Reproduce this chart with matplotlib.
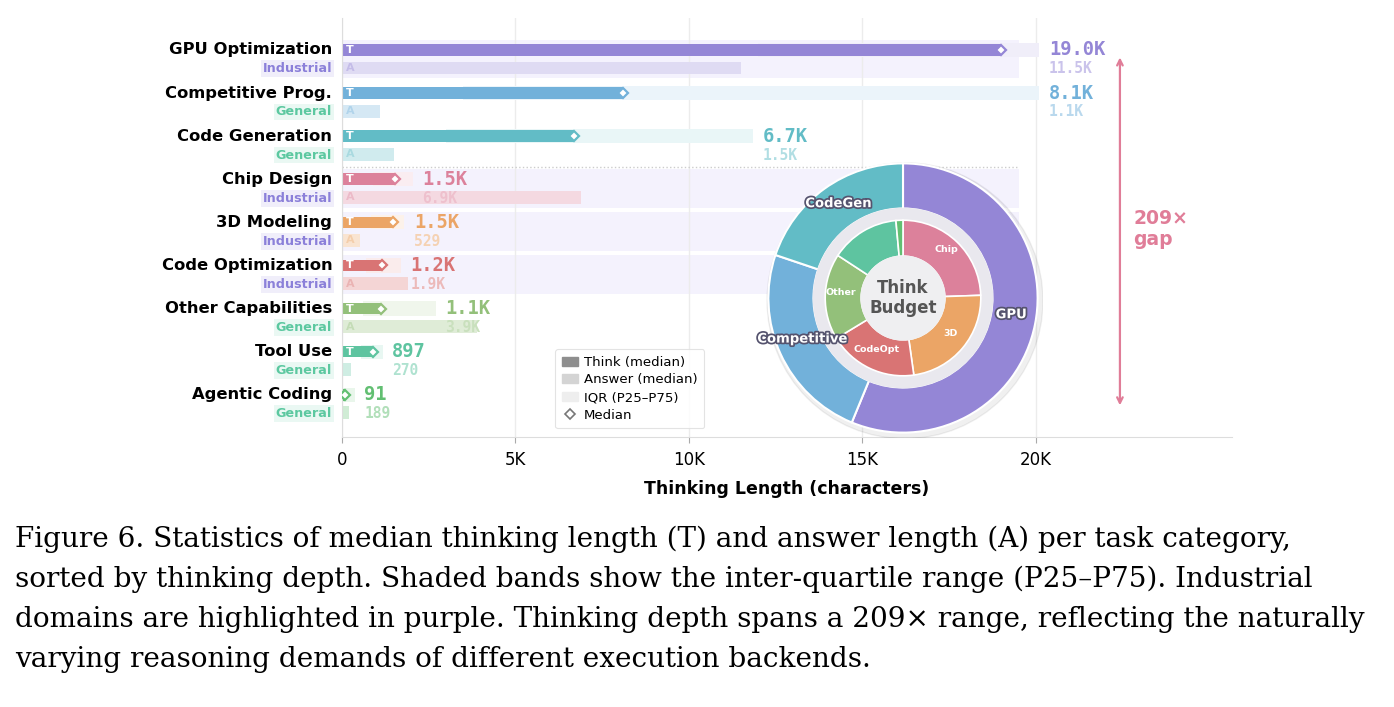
import matplotlib.pyplot as plt
import matplotlib.patheffects as pe
from matplotlib.patches import Patch, Circle, Rectangle
from matplotlib.lines import Line2D
from matplotlib.colors import to_rgba
import matplotlib.transforms as mtransforms
import numpy as np

# data (characters)
categories = ['GPU Optimization', 'Competitive Prog.', 'Code Generation', 'Chip Design',
              '3D Modeling', 'Code Optimization', 'Other Capabilities', 'Tool Use', 'Agentic Coding']
domains = ['Industrial', 'General', 'General', 'Industrial', 'Industrial', 'Industrial',
           'General', 'General', 'General']
think_median = [19000, 8100, 6700, 1530, 1460, 1160, 1120, 897, 91]
answer_median = [11500, 1100, 1500, 6900, 529, 1900, 3900, 270, 189]
think_p25 = [12000, 3500, 3000, 900, 850, 700, 600, 550, 30]
think_p75 = [20100, 20100, 11850, 2050, 1800, 1700, 2700, 1180, 370]
colors = ['#9486d6', '#72b1da', '#62bcc6', '#dc819b', '#eba566', '#d97474',
          '#93c07a', '#5ec4a0', '#62bf72']
pie_outer_names = ['GPU', 'Competitive', 'CodeGen']
pie_inner_names = ['Chip', '3D', 'CodeOpt', 'Other', '', '']
ticks = [0, 5000, 10000, 15000, 20000]
tick_labels = ['0', '5K', '10K', '15K', '20K']

IND_COLOR = '#8b80d9'
GEN_COLOR = '#5cc8a0'


def fmt(v):
    return f'{v / 1000:.1f}K' if v >= 1000 else str(v)


def tint(c, a):
    r, g, b, _ = to_rgba(c)
    return (1 - a + a * r, 1 - a + a * g, 1 - a + a * b)


W, H = 1394, 707
fig = plt.figure(figsize=(W / 100, H / 100), dpi=100)
ax = fig.add_axes([342 / W, 1 - 437 / H, 890 / W, (437 - 18) / H])
ax.set_xlim(0, 25650)
ax.set_ylim(8.77, -0.95)

off = 0.21
for i, cat in enumerate(categories):
    c = colors[i]
    yt, ya = i - off, i + off
    if domains[i] == 'Industrial':
        ax.add_patch(Rectangle((0, i - 0.45), 19500, 0.9, fc='#f4f2fd', ec='none', zorder=0.5))
    # IQR band
    ax.barh(yt, think_p75[i] - think_p25[i], left=think_p25[i], height=0.33,
            color=tint(c, 0.14), zorder=1)
    ax.barh(yt, think_median[i], height=0.27, color=c, zorder=2)
    ax.barh(ya, answer_median[i], height=0.30, color=tint(c, 0.3), zorder=2)
    ax.plot(think_median[i], yt, marker='D', ms=5.5, mfc='white', mec=c, mew=1.6, zorder=3)
    if think_median[i] > 600:
        ax.text(120, yt, 'T', color='white', fontsize=8, fontweight='bold',
                ha='left', va='center', zorder=4)
    if answer_median[i] > 400:
        ax.text(120, ya, 'A', color=tint(c, 0.55), fontsize=8, fontweight='bold',
                ha='left', va='center', zorder=4)
    lx = think_p75[i] + 270
    ax.text(lx, yt, fmt(think_median[i]), color=c, fontsize=13.5, fontweight='bold',
            family='DejaVu Sans Mono', ha='left', va='center', zorder=4)
    ax.text(lx, ya + 0.02, fmt(answer_median[i]), color=tint(c, 0.5), fontsize=10.5,
            fontweight='bold', family='DejaVu Sans Mono', ha='left', va='center', zorder=4)

# row labels
trans = mtransforms.blended_transform_factory(ax.transAxes, ax.transData)
for i, cat in enumerate(categories):
    ax.text(-0.011, i - off, cat, transform=trans, ha='right', va='center',
            fontsize=11.8, fontweight='bold', color='black')
    tc = IND_COLOR if domains[i] == 'Industrial' else GEN_COLOR
    ax.text(-0.011, i + off + 0.02, domains[i], transform=trans, ha='right', va='center',
            fontsize=9.2, fontweight='bold', color=tc,
            bbox=dict(boxstyle='square,pad=0.15', fc=tint(tc, 0.13), ec='none'))

ax.plot([0, 19500], [2.5, 2.5], ls=':', color='#cccccc', lw=1, zorder=1)

ax.set_yticks([])
ax.set_xticks(ticks)
ax.set_xticklabels(tick_labels, fontsize=12)
ax.tick_params(axis='x', length=4, color='#aaaaaa', pad=6)
ax.set_xlabel('Thinking Length (characters)', fontsize=12.5, fontweight='bold', labelpad=8)
ax.grid(axis='x', color='#ececec', lw=1, zorder=0)
ax.set_axisbelow(True)
for s in ['top', 'right']:
    ax.spines[s].set_visible(False)
for s in ['left', 'bottom']:
    ax.spines[s].set_color('#dddddd')

# 209x gap arrow
ax.annotate('', xy=(22420, -0.1), xytext=(22420, 8.1),
            arrowprops=dict(arrowstyle='<->', color='#e07d98', lw=1.6))
ax.text(22800, 3.95, '209×\ngap', color='#e07d98', fontsize=13.5, fontweight='bold',
        ha='left', va='center', linespacing=1.1)

# legend
handles = [Patch(color='#8e8e8e', label='Think (median)'),
           Patch(color='#d4d4d4', label='Answer (median)'),
           Patch(color='#eeeeee', label='IQR (P25–P75)'),
           Line2D([], [], marker='D', ls='', mfc='white', mec='#777777', mew=1.2, ms=5.5,
                  label='Median')]
leg = ax.legend(handles=handles, loc='lower left', bbox_to_anchor=(0.232, 0.005), fontsize=9.5,
                frameon=True, handlelength=1.2, handletextpad=0.5, labelspacing=0.35,
                borderpad=0.5)
leg.get_frame().set_edgecolor('#dddddd')
leg.get_frame().set_linewidth(0.8)

# donut inset
R = 140
axp = fig.add_axes([(903 - R) / W, 1 - (298 + R) / H, 2 * R / W, 2 * R / H])
axp.add_patch(Circle((0.015, -0.02), 1.025, color='black', alpha=0.06, zorder=0))
outer_vals = think_median[:3]
inner_vals = think_median[3:]
axp.pie(outer_vals, radius=1.0, colors=colors[:3], startangle=90, counterclock=False,
        wedgeprops=dict(width=0.335, edgecolor='white', linewidth=1.5))
axp.add_patch(Circle((0, 0), 0.665, color='#e9e8ee', zorder=1))
axp.pie(inner_vals, radius=0.578, colors=colors[3:], startangle=90, counterclock=False,
        wedgeprops=dict(width=0.267, edgecolor='white', linewidth=1.2))
axp.add_patch(Circle((0, 0), 0.311, color='#efeff1', zorder=5))
axp.text(0, 0, 'Think\nBudget', ha='center', va='center', fontsize=12, fontweight='bold',
         color='#555555', zorder=6, linespacing=1.15)
axp.set_xlim(-1.04, 1.04)
axp.set_ylim(-1.04, 1.04)
axp.axis('off')

tot = sum(outer_vals)
start = 90.0
for j, v in enumerate(outer_vals):
    span = 360 * v / tot
    mid = np.deg2rad(start - span / 2)
    start -= span
    r = 0.82
    axp.text(r * np.cos(mid), r * np.sin(mid) + 0.035, pie_outer_names[j], ha='center',
             va='center', fontsize=9.5, fontweight='bold', color='white', zorder=7,
             path_effects=[pe.withStroke(linewidth=2.5, foreground='#55536e')])
tot = sum(inner_vals)
start = 90.0
for j, v in enumerate(inner_vals):
    span = 360 * v / tot
    mid = np.deg2rad(start - span / 2)
    start -= span
    if pie_inner_names[j]:
        r = 0.46
        axp.text(r * np.cos(mid), r * np.sin(mid) + 0.03, pie_inner_names[j], ha='center',
                 va='center', fontsize=6.8, fontweight='bold', color='white', zorder=7)

# caption
caption = ['Figure 6. Statistics of median thinking length (T) and answer length (A) per task category,',
           'sorted by thinking depth. Shaded bands show the inter-quartile range (P25–P75). Industrial',
           'domains are highlighted in purple. Thinking depth spans a 209× range, reflecting the naturally',
           'varying reasoning demands of different execution backends.']
for k, line in enumerate(caption):
    fig.text(15 / W, 1 - (547 + 40 * k) / H, line, ha='left', va='baseline',
             fontsize=20.1, family='DejaVu Serif')

fig.savefig('out.png', dpi=100)
